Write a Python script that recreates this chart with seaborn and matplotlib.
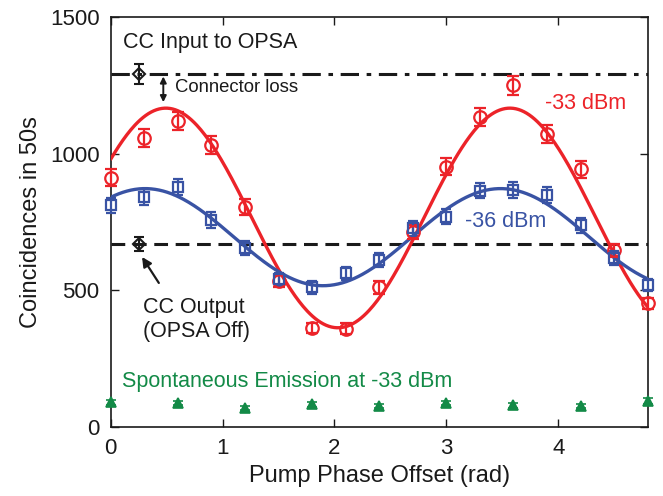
import numpy as np
import pandas as pd
import matplotlib
matplotlib.use("Agg")
import matplotlib.pyplot as plt
import seaborn as sns

# ---------------- data ----------------
phase = [0.0, 0.3, 0.6, 0.9, 1.2, 1.5, 1.8, 2.1, 2.4, 2.7, 3.0, 3.3, 3.6, 3.9, 4.2, 4.5, 4.8]
red_33 = [912, 1058, 1118, 1032, 805, 534, 362, 360, 511, 713, 952, 1134, 1250, 1070, 942, 646, 452]
red_err = [30, 33, 33, 32, 28, 23, 19, 19, 23, 27, 31, 34, 35, 33, 31, 25, 21]
blue_36 = [811, 842, 878, 757, 655, 540, 511, 562, 610, 727, 769, 865, 866, 848, 738, 618, 520]
blue_err = [28, 29, 30, 28, 26, 23, 23, 24, 25, 27, 28, 29, 29, 29, 27, 25, 23]
green_phase = [0.0, 0.6, 1.2, 1.8, 2.4, 3.0, 3.6, 4.2, 4.8]
green_spont = [91, 88, 70, 84, 77, 88, 80, 77, 95]
green_err = [9, 9, 8, 9, 9, 9, 9, 9, 10]
cc_input = 1290
cc_input_err = 36
cc_output = 670
cc_output_err = 26
ref_phase = 0.25

RED = "#EC2329"
BLUE = "#3953A4"
GREEN = "#138A47"
BLACK = "#1a1a1a"


def sine_fit(x, y):
    """Least-squares fit of y = a + b cos(wx) + c sin(wx) over a grid of w."""
    x = np.asarray(x, float)
    y = np.asarray(y, float)
    best = None
    for w in np.linspace(1.6, 2.4, 801):
        M = np.column_stack([np.ones_like(x), np.cos(w * x), np.sin(w * x)])
        coef, res, *_ = np.linalg.lstsq(M, y, rcond=None)
        r = np.sum((M @ coef - y) ** 2)
        if best is None or r < best[0]:
            best = (r, w, coef)
    _, w, coef = best
    xs = np.linspace(0, 4.8, 400)
    ys = coef[0] + coef[1] * np.cos(w * xs) + coef[2] * np.sin(w * xs)
    return xs, ys


sns.set_style("ticks")
plt.rcParams["font.family"] = ["Liberation Sans", "DejaVu Sans"]

fig = plt.figure(figsize=(6.63, 4.96), dpi=100)
ax = fig.add_axes([0.167, 0.139, 0.810, 0.827])

# fitted curves
xr, yr = sine_fit(phase, red_33)
xb, yb = sine_fit(phase, blue_36)
fits = pd.DataFrame({"x": np.concatenate([xr, xb]),
                     "y": np.concatenate([yr, yb]),
                     "s": ["-33"] * len(xr) + ["-36"] * len(xb)})
sns.lineplot(data=fits, x="x", y="y", hue="s", palette={"-33": RED, "-36": BLUE},
             linewidth=2.4, legend=False, ax=ax, zorder=3)

# horizontal reference lines
ax.axhline(cc_input, color=BLACK, lw=2.2, ls=(0, (6, 2.5, 1.5, 2.5)), zorder=2)
ax.axhline(cc_output, color=BLACK, lw=2.2, ls=(0, (4.5, 2.5)), zorder=2)


def eb(x, y, err, **kw):
    cont = ax.errorbar(x, y, yerr=err, **kw)
    for art in cont.get_children():
        art.set_clip_on(False)
    return cont


# data points with error bars
eb(phase, red_33, red_err, fmt="o", mfc="none", mec=RED, ecolor=RED,
   ms=9, mew=1.6, elinewidth=1.6, capsize=4, capthick=1.6, zorder=4)
eb(phase, blue_36, blue_err, fmt="s", mfc="none", mec=BLUE, ecolor=BLUE,
   ms=7, mew=1.6, elinewidth=1.6, capsize=3.5, capthick=1.6, zorder=4)
eb(green_phase, green_spont, green_err, fmt="^", mfc=GREEN, mec=GREEN,
   ecolor=GREEN, ms=6.5, mew=1.2, elinewidth=1.2, capsize=3.5, capthick=1.2, zorder=4)
eb([ref_phase], [cc_input], [cc_input_err], fmt="D", mfc="none", mec=BLACK,
   ecolor=BLACK, ms=6, mew=1.5, elinewidth=1.5, capsize=3.5, capthick=1.5, zorder=5)
eb([ref_phase], [cc_output], [cc_output_err], fmt="D", mfc="none", mec=BLACK,
   ecolor=BLACK, ms=6, mew=1.5, elinewidth=1.5, capsize=3.5, capthick=1.5, zorder=5)

# annotations
fs = 15.5
ax.text(0.107, 1405, "CC Input to OPSA", fontsize=fs, color=BLACK, va="center", ha="left")
ax.text(0.574, 1240, "Connector loss", fontsize=13.3, color=BLACK, va="center", ha="left")
ax.annotate("", xy=(0.47, 1188), xytext=(0.47, 1282),
            arrowprops=dict(arrowstyle="<|-|>", color=BLACK, lw=1.4,
                            mutation_scale=9, shrinkA=0, shrinkB=0))
ax.text(3.88, 1182, "-33 dBm", fontsize=fs, color=RED, va="center", ha="left")
ax.text(3.17, 750, "-36 dBm", fontsize=fs, color=BLUE, va="center", ha="left")
ax.text(0.29, 439, "CC Output", fontsize=fs, color=BLACK, va="center", ha="left")
ax.text(0.29, 348, "(OPSA Off)", fontsize=fs, color=BLACK, va="center", ha="left")
ax.annotate("", xy=(0.28, 622), xytext=(0.43, 527),
            arrowprops=dict(arrowstyle="-|>", color=BLACK, lw=1.6,
                            mutation_scale=14, shrinkA=0, shrinkB=0))
ax.text(0.10, 168, "Spontaneous Emission at -33 dBm", fontsize=fs, color=GREEN,
        va="center", ha="left")

# axes
ax.set_xlim(0, 4.8)
ax.set_ylim(0, 1500)
ax.set_xticks([0, 1, 2, 3, 4])
ax.set_yticks([0, 500, 1000, 1500])
ax.tick_params(direction="in", top=True, right=True, length=6, width=1.0,
               labelsize=16, colors=BLACK, pad=8)
for s in ax.spines.values():
    s.set_linewidth(1.2)
    s.set_color(BLACK)
    s.set_visible(True)
ax.set_xlabel("Pump Phase Offset (rad)", fontsize=17, color=BLACK, labelpad=4)
ax.set_ylabel("Coincidences in 50s", fontsize=17, color=BLACK, labelpad=6)

fig.savefig("out.png", dpi=100)
